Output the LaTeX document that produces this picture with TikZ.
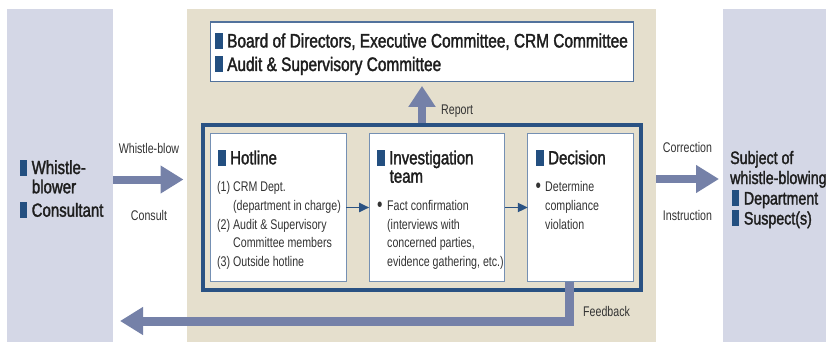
\documentclass[tikz,border=0pt]{standalone}
\usepackage{fontspec}
\setmainfont[FakeStretch=0.78]{Liberation Sans}
\newfontfamily\headf[FakeStretch=0.79,FakeBold=1.7]{Liberation Sans}
\newfontfamily\bodyf[FakeStretch=0.76]{Liberation Sans}
\usetikzlibrary{arrows.meta}
\definecolor{lav}{HTML}{D4D7E6}
\definecolor{beige}{HTML}{E5DFCD}
\definecolor{arr}{HTML}{7581A8}
\definecolor{dblue}{HTML}{2A5283}
\definecolor{mk}{HTML}{234F80}
\definecolor{bbord}{HTML}{7590B3}
\definecolor{tbord}{HTML}{52729C}
\definecolor{hdtxt}{HTML}{1E1E1E}
\definecolor{bodytxt}{HTML}{333333}
\newcommand{\mkr}{\textcolor{mk}{\rule[-1.5pt]{7.5pt}{16pt}}\hspace{4.5pt}}
\newcommand{\bul}{\raisebox{-1.2pt}{\scalebox{1.45}{•}}}
\begin{document}
\begin{tikzpicture}[x=1pt,y=-1pt,
  panel/.style={inner sep=0pt, outer sep=0pt, anchor=north west, minimum height=333pt},
  box/.style={draw=bbord, line width=1pt, fill=white, inner sep=0pt, outer sep=0pt, minimum height=148.6pt},
  bigarrow/.style={draw=arr, line width=8pt, -{Triangle[length=23pt,width=26.5pt]}},
  smallarrow/.style={draw=dblue, line width=1.8pt, -{Triangle[length=10pt,width=9pt]}},
  hd/.style={anchor=base west, inner sep=0pt, font=\headf\fontsize{19}{19}\selectfont, text=hdtxt},
  tophd/.style={anchor=base west, inner sep=0pt, font=\headf\fontsize{19.5}{19.5}\selectfont, text=hdtxt},
  big/.style={anchor=base west, inner sep=0pt, font=\headf\fontsize{19}{19}\selectfont, text=hdtxt},
  big2/.style={anchor=base west, inner sep=0pt, font=\headf\fontsize{18}{18}\selectfont, text=hdtxt},
  bd/.style={anchor=base west, inner sep=0pt, font=\bodyf\fontsize{14}{14}\selectfont, text=bodytxt},
  lbl/.style={anchor=base, inner sep=0pt, font=\bodyf\fontsize{14}{14}\selectfont, text=bodytxt},
]
\useasboundingbox (0,0) rectangle (826,342);
\fill[white] (0,0) rectangle (826,342);
% panels
\node[panel, fill=lav, minimum width=106pt] (lp) at (7,9) {};
\node[panel, fill=beige, minimum width=469pt] (bp) at (187,9) {};
\node[panel, fill=lav, minimum width=103pt] (rp) at (723,9) {};
% top box
\node[draw=tbord, line width=1.2pt, fill=white, inner sep=0pt, outer sep=0pt,
      minimum width=422.8pt, minimum height=59.5pt] (board) at (422,51.7) {};
% frame
\node[draw=dblue, line width=4pt, inner sep=0pt, outer sep=0pt,
      minimum width=438.5pt, minimum height=164.4pt] (frame) at (422,207.5) {};
% report arrow
\draw[bigarrow, -{Triangle[length=21pt,width=26pt]}, shorten >=4.5pt, shorten <=2pt] (frame.north) -- (board.south);
% boxes
\node[box, minimum width=135.7pt] (hot) at (278.4,207.5) {};
\node[box, minimum width=135.6pt] (inv) at (437,207.5) {};
\node[box, minimum width=105.7pt] (dec) at (580.7,207.5) {};
\draw[smallarrow] (hot.east) -- (inv.west);
\draw[smallarrow] (inv.east) -- (dec.west);
% feedback
\coordinate (fbB) at (120,321);
\draw[bigarrow, line width=9pt, line join=miter] ([xshift=-11.7pt]dec.south) |- (fbB);
% side arrows
\coordinate (wbA) at (113,179.5);
\coordinate (wbB) at (183.5,179.5);
\draw[bigarrow] (wbA) -- (wbB);
\coordinate (coA) at (656,179);
\coordinate (coB) at (719,179);
\draw[bigarrow] (coA) -- (coB);
% top box text
\node[tophd] (b1) at (215,47.5) {\mkr Board of Directors, Executive Committee, CRM Committee};
\node[tophd] (b2) at (215,71) {\mkr Audit \& Supervisory Committee};
% hotline
\node[hd] (hh) at (218,164.3) {\mkr Hotline};
\node[bd] (h1) at (217,191.5) {(1) CRM Dept.};
\node[bd] (h2) at (233,210) {(department in charge)};
\node[bd] (h3) at (217,229) {(2) Audit \& Supervisory};
\node[bd] (h4) at (233,247.7) {Committee members};
\node[bd] (h5) at (217,266) {(3) Outside hotline};
% investigation
\node[hd] (ih) at (377,164.3) {\mkr Investigation};
\node[hd] (ih2) at (389.5,182.7) {team};
\node[bd] (i1) at (377,210) {\makebox[10pt][l]{\bul}Fact confirmation};
\node[bd] (i2) at (387,229) {(interviews with};
\node[bd] (i3) at (387,247.7) {concerned parties,};
\node[bd] (i4) at (387,266) {evidence gathering, etc.)};
% decision
\node[hd] (dh) at (536,164.3) {\mkr Decision};
\node[bd] (d1) at (535.5,191.5) {\makebox[9.5pt][l]{\bul}Determine};
\node[bd] (d2) at (545,210) {compliance};
\node[bd] (d3) at (545,229) {violation};
% left panel
\node[big] (w1) at (19.5,174) {\mkr Whistle-};
\node[big] (w2) at (31.7,193.3) {blower};
\node[big] (w3) at (19.5,216.7) {\mkr Consultant};
% right panel
\node[big2] (s1) at (730,164) {Subject of};
\node[big2] (s2) at (730,184) {whistle-blowing};
\node[big2] (s3) at (731.7,204.5) {\mkr Department};
\node[big2] (s4) at (731.7,224.5) {\mkr Suspect(s)};
% labels
\node[lbl] (lwb) at (149,153.3) {Whistle-blow};
\node[lbl] (lcs) at (149,220.7) {Consult};
\node[lbl] (lco) at (687.5,152.7) {Correction};
\node[lbl] (lin) at (687.5,220.7) {Instruction};
\node[lbl, anchor=base west] (lrp) at (441,114) {Report};
\node[lbl, anchor=base west] (lfb) at (583,316) {Feedback};
\end{tikzpicture}
\end{document}
